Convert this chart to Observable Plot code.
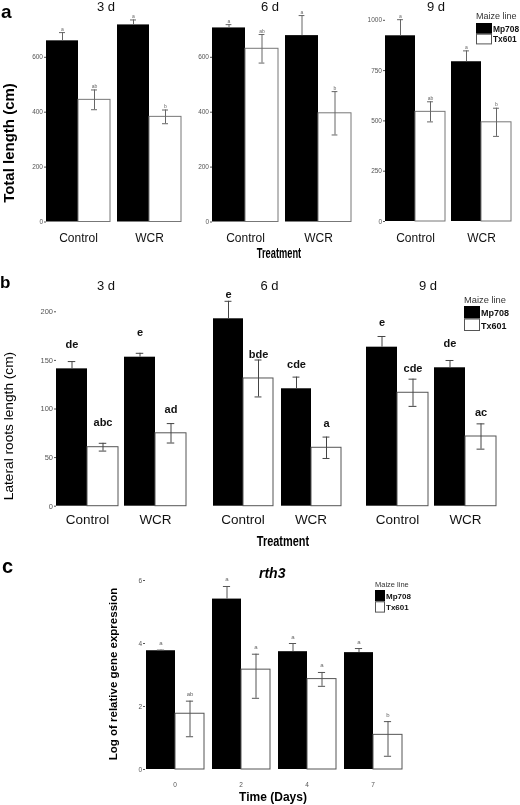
<!DOCTYPE html>
<html><head><meta charset="utf-8">
<script src="https://cdn.jsdelivr.net/npm/d3@7"></script>
<script src="https://cdn.jsdelivr.net/npm/@observablehq/plot@0.6"></script>
<style>
body{margin:0;background:#fff;}
#fig{position:relative;width:520px;height:805px;overflow:hidden;background:#fff;}
#fig svg{position:absolute;left:0;will-change:transform;}
</style></head><body><div id="fig"></div>
<script>
// ---------- data ----------
const lines = ["Mp708", "Tx601"];
const lineColors = ["black", "white"];
const treatments = ["Control", "WCR"];
const dayTitles = ["3 d", "6 d", "9 d"];
// order within a day: Control-Mp708, Control-Tx601, WCR-Mp708, WCR-Tx601
const totalMean3 = [660, 445, 718, 383];
const totalErr3 = [30, 36, 18, 25];
const totalMean6 = [707, 631, 679, 396];
const totalErr6 = [12, 52, 73, 79];
const totalMean9 = [923, 545, 794, 493];
const totalErr9 = [80, 50, 54, 70];
const totalLetters = ["a", "ab", "a", "b"];
const totalTicks36 = [0, 200, 400, 600];
const totalTicks9 = [0, 250, 500, 750, 1000];

const lateralMean3 = [141.3, 60.7, 153.3, 75];
const lateralErr3 = [7.5, 4, 4, 10];
const lateralMean6 = [192.8, 131.4, 120.8, 60.1];
const lateralErr6 = [18, 19, 12, 11];
const lateralMean9 = [163.6, 116.7, 142.4, 71.7];
const lateralErr9 = [11, 14, 7.5, 13];
const lateralLetters3 = ["de", "abc", "e", "ad"];
const lateralLetters6 = ["e", "bde", "cde", "a"];
const lateralLetters9 = ["e", "cde", "de", "ac"];
const lateralTicks = [0, 50, 100, 150, 200];

const days = ["0", "2", "4", "7"];
const rth3Mp708 = [3.77, 5.41, 3.74, 3.71];
const rth3Mp708Hi = [3.79, 5.81, 4.00, 3.84];
const rth3Tx601 = [1.77, 3.17, 2.87, 1.10];
const rth3Tx601Lo = [1.04, 2.26, 2.64, 0.42];
const rth3Tx601Hi = [2.17, 3.66, 3.08, 1.52];
const rth3LettersMp708 = ["a", "a", "a", "a"];
const rth3LettersTx601 = ["ab", "a", "a", "b"];
const rth3Ticks = [0, 2, 4, 6];

// ---------- build rows ----------
function rowsAB(means, errs, letters) {
  return treatments.flatMap((t, i) => lines.map((l, j) => {
    const k = i * 2 + j;
    return {group: t, line: l, mean: means[k], lo: means[k] - errs[k], hi: means[k] + errs[k], letter: letters[k]};
  }));
}
function rowsC() {
  return days.flatMap((d, i) => [
    {group: d, line: lines[0], mean: rth3Mp708[i], lo: rth3Mp708[i], hi: rth3Mp708Hi[i], letter: rth3LettersMp708[i]},
    {group: d, line: lines[1], mean: rth3Tx601[i], lo: rth3Tx601Lo[i], hi: rth3Tx601Hi[i], letter: rth3LettersTx601[i]}
  ]);
}

const FONT = "'Liberation Sans', Arial, sans-serif";
const fig = document.getElementById("fig");

function panel(o) {
  const n = o.groups.length;
  const g = (o.barR - o.barL - o.gap * (n - 1)) / n;
  const step = g + o.gap;
  const right = o.barR + (o.barL - o.axisX);
  const bw = g / 2;
  const capInset = Math.max(0, (bw - o.capW) / 2);
  const black = o.rows.filter(d => d.line === lines[0]);
  const white = o.rows.filter(d => d.line === lines[1]);
  const marks = [
    Plot.barY(black, {fx: "group", x: "line", y: "mean", fill: lineColors[0]}),
    Plot.barY(white, {fx: "group", x: "line", y: "mean", fill: lineColors[1], stroke: o.barStroke, strokeWidth: 1}),
    Plot.ruleX(black, {fx: "group", x: "line", y1: "mean", y2: "hi", stroke: o.errColor, strokeWidth: 1}),
    Plot.ruleX(white, {fx: "group", x: "line", y1: "lo", y2: "hi", stroke: o.errColor, strokeWidth: 1}),
    Plot.tickY(o.rows, {fx: "group", x: "line", y: "hi", stroke: o.errColor, strokeWidth: 1, inset: capInset}),
    Plot.tickY(white, {fx: "group", x: "line", y: "lo", stroke: o.errColor, strokeWidth: 1, inset: capInset}),
    Plot.text(o.rows, {fx: "group", x: "line", y: o.letterY, text: "letter", dy: o.letterDy, lineAnchor: o.letterAnchor, fontSize: o.letterSize, fill: o.letterColor, fontWeight: o.letterWeight || "normal"}),
    Plot.axisFx({anchor: "bottom", tickSize: 0, tickPadding: o.fxPad, fontSize: o.fxFont, label: null, color: o.fxColor})
  ];
  if (o.ticks) marks.push(Plot.axisY({ticks: o.ticks, tickSize: 2, tickPadding: 1.5, fontSize: o.tickFont, color: "#555", label: null, tickFormat: d => String(d)}));
  const svg = Plot.plot({
    width: 520, height: o.height,
    marginLeft: o.axisX, marginRight: 520 - right,
    marginTop: o.zeroY - o.top - o.yMax * o.ppu,
    marginBottom: o.top + o.height - o.zeroY,
    fx: {domain: o.groups, paddingInner: o.gap / step, paddingOuter: (o.barL - o.axisX) / step, label: null, axis: null},
    x: {domain: lines, padding: 0, axis: null},
    y: {domain: [0, o.yMax], axis: null},
    style: {fontFamily: FONT, background: "transparent", overflow: "visible"},
    marks
  });
  svg.style.position = "absolute";
  svg.style.top = o.top + "px";
  svg.style.left = "0px";
  fig.appendChild(svg);
}

// Panel a
const aCommon = {groups: treatments, top: 0, height: 250, capW: 6, barStroke: "#777", errColor: "#666",
  letterY: "hi", letterDy: -2, letterAnchor: "bottom", letterSize: 5, letterColor: "#666",
  fxPad: 11.7, fxFont: 12, fxColor: "#111", tickFont: 6.5};
panel({...aCommon, rows: rowsAB(totalMean3, totalErr3, totalLetters), axisX: 36, barL: 46, barR: 181, gap: 7, zeroY: 221.5, ppu: 0.2745, yMax: 798, ticks: totalTicks36});
panel({...aCommon, rows: rowsAB(totalMean6, totalErr6, totalLetters), axisX: 199, barL: 212, barR: 351.7, gap: 6.7, zeroY: 221.5, ppu: 0.2745, yMax: 798, ticks: totalTicks36});
panel({...aCommon, rows: rowsAB(totalMean9, totalErr9, totalLetters), axisX: 376, barL: 384, barR: 510.7, gap: 6.4, zeroY: 221, ppu: 0.2012, yMax: 1085, ticks: totalTicks9});

// Panel b
const bCommon = {groups: treatments, top: 280, height: 250, capW: 8, barStroke: "#555", errColor: "#444",
  letterY: d => d.mean + 25, letterDy: 0, letterAnchor: "middle", letterSize: 11, letterColor: "#111", letterWeight: "bold",
  fxPad: 8, fxFont: 13.5, fxColor: "#111", tickFont: 7.5, zeroY: 505.7, ppu: 0.972, yMax: 222};
panel({...bCommon, rows: rowsAB(lateralMean3, lateralErr3, lateralLetters3), axisX: 34, barL: 55, barR: 186.7, gap: 5.7, ticks: lateralTicks});
panel({...bCommon, rows: rowsAB(lateralMean6, lateralErr6, lateralLetters6), axisX: 205, barL: 210.7, barR: 341.7, gap: 6.7});
panel({...bCommon, rows: rowsAB(lateralMean9, lateralErr9, lateralLetters9), axisX: 360, barL: 366, barR: 496.7, gap: 6.3});

// Panel c
panel({groups: days, rows: rowsC(), top: 555, height: 250, capW: 8, barStroke: "#555", errColor: "#555",
  letterY: "hi", letterDy: -5, letterAnchor: "bottom", letterSize: 6, letterColor: "#666",
  fxPad: 12.9, fxFont: 6.5, fxColor: "#555", tickFont: 6.5,
  axisX: 136, barL: 144, barR: 402.7, gap: 6.7, zeroY: 769, ppu: 31.5, yMax: 6.3, ticks: rth3Ticks});

// ---------- annotations (titles, axis titles, legends) ----------
const ov = d3.create("svg").attr("width", 520).attr("height", 805)
  .style("position", "absolute").style("top", "0px").style("left", "0px")
  .style("font-family", FONT).style("pointer-events", "none");
function txt(x, y, s, opt = {}) {
  const t = ov.append("text").attr("x", 0).attr("y", 0).text(s)
    .attr("font-size", opt.size || 10).attr("font-weight", opt.weight || "normal")
    .attr("font-style", opt.style || "normal").attr("fill", opt.fill || "#111")
    .attr("text-anchor", opt.anchor || "start");
  let tr = `translate(${x},${y})`;
  if (opt.rotate) tr += ` rotate(${opt.rotate})`;
  if (opt.sx) tr += ` scale(${opt.sx},1)`;
  t.attr("transform", tr);
  return t;
}
// panel letters
txt(1, 18, "a", {size: 19, weight: "bold", fill: "#000"});
txt(0, 288, "b", {size: 17, weight: "bold", fill: "#000"});
txt(2, 573, "c", {size: 20, weight: "bold", fill: "#000"});
// facet titles
const aTitleX = [106, 270, 436];
const bTitleX = [106, 269.5, 428];
dayTitles.forEach((d, i) => {
  txt(aTitleX[i], 11, d, {size: 13, anchor: "middle"});
  txt(bTitleX[i], 290, d, {size: 13, anchor: "middle"});
});
// axis titles
txt(14, 143, "Total length (cm)", {size: 15, weight: "bold", anchor: "middle", rotate: -90, fill: "#000"});
txt(13, 426, "Lateral roots length (cm)", {size: 13.7, anchor: "middle", rotate: -90, fill: "#000"});
txt(116.5, 674, "Log of relative gene expression", {size: 11.5, weight: "bold", anchor: "middle", rotate: -90, fill: "#000"});
txt(279, 258, "Treatment", {size: 15, weight: "bold", anchor: "middle", sx: 0.62, fill: "#000"});
txt(283, 546, "Treatment", {size: 15, weight: "bold", anchor: "middle", sx: 0.73, fill: "#000"});
txt(273, 801, "Time (Days)", {size: 12, weight: "bold", anchor: "middle", fill: "#000"});
txt(259, 578, "rth3", {size: 14, weight: "bold", style: "italic", fill: "#000"});

function legend(x, titleY, titleSize, boxTop, boxW, boxH, labelSize) {
  txt(x, titleY, "Maize line", {size: titleSize, fill: "#333"});
  lines.forEach((l, i) => {
    ov.append("rect").attr("x", x + 0.5).attr("y", boxTop + i * boxH + 0.5)
      .attr("width", boxW - 1).attr("height", boxH - 1)
      .attr("fill", lineColors[i]).attr("stroke", i === 0 ? "black" : "#555");
    txt(x + boxW + 1, boxTop + i * boxH + boxH * 0.8, l, {size: labelSize, weight: "bold", fill: "#111"});
  });
}
legend(476, 19.3, 9, 23, 16, 10.7, 8.4);
legend(464, 302.7, 9.3, 306, 16, 12.5, 9);
legend(375, 586.7, 7.5, 590, 10, 11.3, 8);

fig.appendChild(ov.node());
</script></body></html>
